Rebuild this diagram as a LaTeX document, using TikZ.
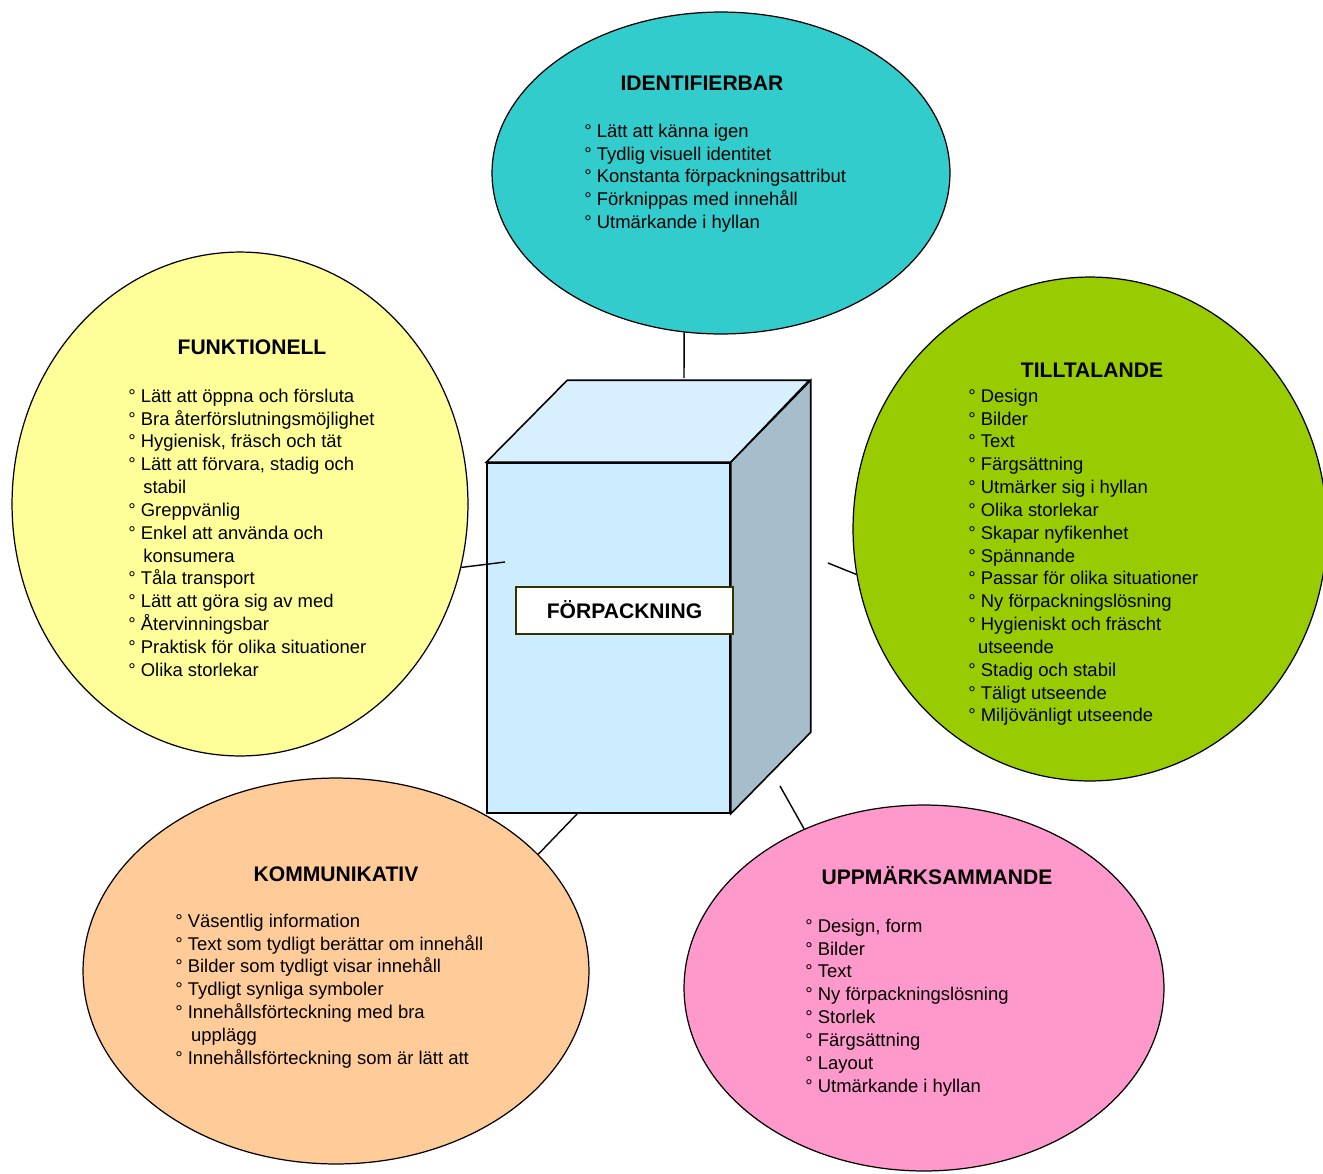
\documentclass[tikz,border=0pt]{standalone}
\usepackage{fontspec}
\setmainfont{Liberation Sans}
\usepackage{xcolor}
\definecolor{bubblecyan}{HTML}{33CCCC}
\definecolor{bubbleyellow}{HTML}{FFFF99}
\definecolor{bubblegreen}{HTML}{99CC00}
\definecolor{bubbleorange}{HTML}{FFCC99}
\definecolor{bubblepink}{HTML}{FF99CC}
\definecolor{cubefront}{HTML}{CCECFF}
\definecolor{cubetop}{HTML}{D7EFFF}
\definecolor{cubeside}{HTML}{A6BDCC}
\definecolor{labelframe}{HTML}{333300}
\usepackage{tikz}
\usetikzlibrary{shapes.geometric, calc}
\tikzstyle{bubble} = [
  ellipse, draw=black, line width=0.7pt, inner sep=0pt
]
\tikzstyle{heading} = [
  font=\fontsize{12}{14}\selectfont\bfseries, inner sep=0pt
]
\tikzstyle{itemlist} = [
  font=\fontsize{10.5}{13}\selectfont, align=left,
  anchor=north west, inner sep=0pt
]
\tikzstyle{face} = [
  draw=black, line width=0.9pt, line join=miter
]
\tikzstyle{labelbox} = [
  rectangle, draw=labelframe, line width=0.8pt, fill=white,
  minimum width=4.34cm, minimum height=0.94cm,
  text height=8.6pt, text depth=0pt,
  font=\fontsize{12}{14}\selectfont\bfseries
]
\tikzstyle{connector} = [
  draw=black, line width=0.8pt
]

\begin{document}
\begin{tikzpicture}[x=0.02cm, y=-0.02cm]
  \useasboundingbox (0,0) rectangle (1323,1174);

  % ── Bubbles ───────────────────────────────────────────
  \node[bubble, fill=bubblecyan, minimum width=9.16cm, minimum height=6.44cm]
    (identifierbar) at (721,173) {};
  \node[bubble, fill=bubbleyellow, minimum width=9.12cm, minimum height=10.08cm]
    (funktionell) at (240,504) {};
  \node[bubble, fill=bubblegreen, minimum width=9.48cm, minimum height=10.08cm]
    (tilltalande) at (1090,529) {};
  \node[bubble, fill=bubbleorange, minimum width=10.12cm, minimum height=7.72cm]
    (kommunikativ) at (336,971) {};
  \node[bubble, fill=bubblepink, minimum width=9.6cm, minimum height=7.32cm]
    (uppmarksammande) at (924,988) {};

  % ── Cube ──────────────────────────────────────────────
  \node[face, fill=cubefront, minimum width=4.86cm, minimum height=7cm,
        inner sep=0pt] (box) at (608.5,638) {};
  \draw[face, fill=cubetop] (box.north west) -- ++(81,-82) -- ++(242,0)
    -- (box.north east) -- cycle;
  \draw[face, fill=cubeside] (box.north east) -- ++(80,-82) -- ++(0,352)
    -- (box.south east) -- cycle;
  \node[labelbox] (forpackning) at (624.5,610.5) {FÖRPACKNING};

  % ── Connectors ────────────────────────────────────────
  \coordinate (topend)    at (684,378);
  \coordinate (leftend)   at (505,562);
  \coordinate (rightend)  at (828,563);
  \coordinate (lowleft)   at (577,814);
  \coordinate (lowright)  at (780,786);
  \draw[connector] (identifierbar.-103) -- (topend);
  \draw[connector] (funktionell.-16.7) -- (leftend);
  \draw[connector] (tilltalande.191) -- (rightend);
  \draw[connector] (kommunikativ.30.3) -- (lowleft);
  \draw[connector] (uppmarksammande.127.5) -- (lowright);

  % ── Headings ──────────────────────────────────────────
  \node[heading] (identifierbar-title)   at (702,83)  {IDENTIFIERBAR};
  \node[heading] (funktionell-title)     at (252,347) {FUNKTIONELL};
  \node[heading] (tilltalande-title)     at (1092,370) {TILLTALANDE};
  \node[heading] (kommunikativ-title)    at (336,874) {KOMMUNIKATIV};
  \node[heading] (uppmarksammande-title) at (937,876) {UPPMÄRKSAMMANDE};

  % ── Item lists ────────────────────────────────────────
  \node[itemlist] (identifierbar-items) at (584,123.5) {%
    ° Lätt att känna igen\\
    ° Tydlig visuell identitet\\
    ° Konstanta förpackningsattribut\\
    ° Förknippas med innehåll\\
    ° Utmärkande i hyllan};

  \node[itemlist] (funktionell-items) at (128,388.5) {%
    ° Lätt att öppna och försluta\\
    ° Bra återförslutningsmöjlighet\\
    ° Hygienisk, fräsch och tät\\
    ° Lätt att förvara, stadig och\\
    \hspace*{8.5pt}stabil\\
    ° Greppvänlig\\
    ° Enkel att använda och\\
    \hspace*{8.5pt}konsumera\\
    ° Tåla transport\\
    ° Lätt att göra sig av med\\
    ° Återvinningsbar\\
    ° Praktisk för olika situationer\\
    ° Olika storlekar};

  \node[itemlist] (tilltalande-items) at (968,388.5) {%
    ° Design\\
    ° Bilder\\
    ° Text\\
    ° Färgsättning\\
    ° Utmärker sig i hyllan\\
    ° Olika storlekar\\
    ° Skapar nyfikenhet\\
    ° Spännande\\
    ° Passar för olika situationer\\
    ° Ny förpackningslösning\\
    ° Hygieniskt och fräscht\\
    \hspace*{5.5pt}utseende\\
    ° Stadig och stabil\\
    ° Täligt utseende\\
    ° Miljövänligt utseende};

  \node[itemlist] (kommunikativ-items) at (175,913.5) {%
    ° Väsentlig information\\
    ° Text som tydligt berättar om innehåll\\
    ° Bilder som tydligt visar innehåll\\
    ° Tydligt synliga symboler\\
    ° Innehållsförteckning med bra\\
    \hspace*{9pt}upplägg\\
    ° Innehållsförteckning som är lätt att};

  \node[itemlist] (uppmarksammande-items) at (805,918.5) {%
    ° Design, form\\
    ° Bilder\\
    ° Text\\
    ° Ny förpackningslösning\\
    ° Storlek\\
    ° Färgsättning\\
    ° Layout\\
    ° Utmärkande i hyllan};

\end{tikzpicture}
\end{document}
